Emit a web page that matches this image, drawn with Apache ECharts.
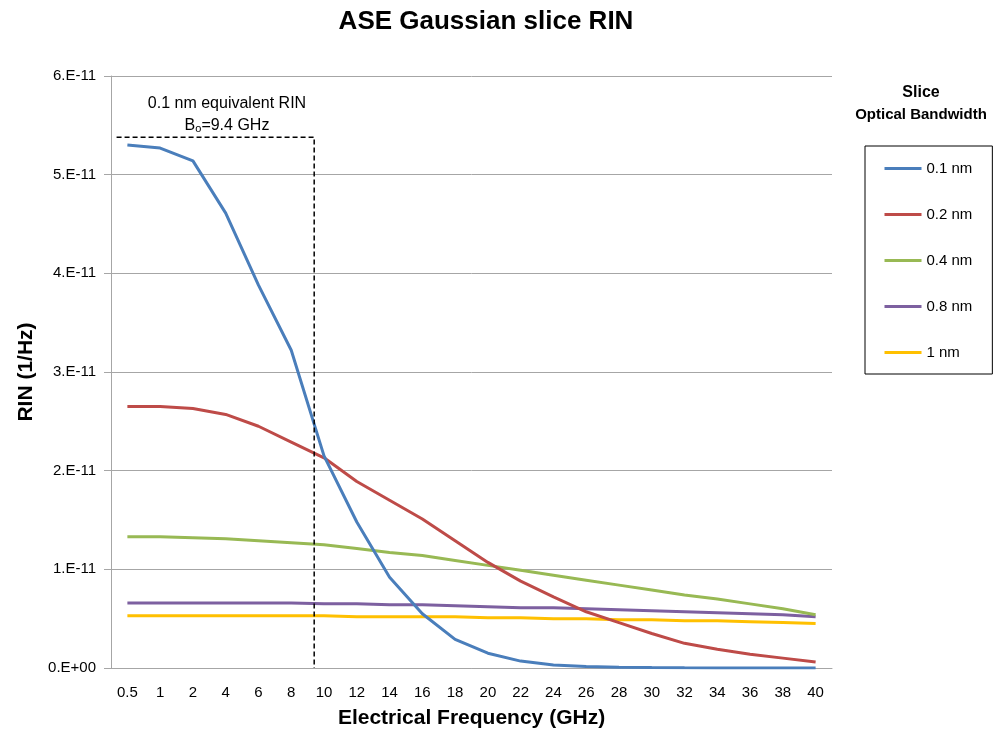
<!DOCTYPE html>
<html>
<head>
<meta charset="utf-8">
<script src="https://cdn.jsdelivr.net/npm/echarts@6/dist/echarts.min.js"></script>
<style>html,body{margin:0;padding:0;background:#fff}#c{width:1003px;height:735px}</style>
</head>
<body>
<div id="c"></div>
<script>
// Values in units of 1e-11 1/Hz
const categories = ['0.5','1','2','4','6','8','10','12','14','16','18','20','22','24','26','28','30','32','34','36','38','40'];
const seriesNames = ['0.1 nm','0.2 nm','0.4 nm','0.8 nm','1 nm'];
const rin01 = [5.30,5.27,5.14,4.61,3.88,3.22,2.15,1.48,0.92,0.55,0.29,0.15,0.07,0.03,0.015,0.008,0.004,0.002,0.001,0,0,0];
const rin02 = [2.65,2.65,2.63,2.57,2.45,2.29,2.13,1.89,1.70,1.51,1.29,1.07,0.88,0.72,0.57,0.46,0.35,0.25,0.19,0.14,0.10,0.06];
const rin04 = [1.33,1.33,1.32,1.31,1.29,1.27,1.25,1.21,1.17,1.14,1.09,1.04,0.99,0.94,0.89,0.84,0.79,0.74,0.70,0.65,0.60,0.54];
const rin08 = [0.66,0.66,0.66,0.66,0.66,0.66,0.65,0.65,0.64,0.64,0.63,0.62,0.61,0.61,0.60,0.59,0.58,0.57,0.56,0.55,0.54,0.52];
const rin10 = [0.53,0.53,0.53,0.53,0.53,0.53,0.53,0.52,0.52,0.52,0.52,0.51,0.51,0.50,0.50,0.49,0.49,0.48,0.48,0.47,0.46,0.45];
const yTickLabels = ['0.E+00','1.E-11','2.E-11','3.E-11','4.E-11','5.E-11','6.E-11'];
// Annotation: 0.1 nm equivalent RIN level and B0 = 9.4 GHz
const equivRin = 5.38;
const b0Freq = 9.4;
const annoStartIdx = -0.33;
// fractional category index of 9.4 GHz (between '8' idx 5 and '10' idx 6)
const b0Idx = 5 + (b0Freq - 8) / (10 - 8);
const colors = ['#4a7ebb','#be4b48','#98b954','#7d60a0','#ffc000'];
const dataSets = [rin01, rin02, rin04, rin08, rin10];

const chart = echarts.init(document.getElementById('c'));
const font = '"Liberation Sans", Arial, sans-serif';
const series = dataSets.map((d, i) => ({
  name: seriesNames[i], type: 'line', data: d, symbol: 'none',
  lineStyle: { color: colors[i], width: 3 }, itemStyle: { color: colors[i] },
  z: 3 + (4 - i)
}));
series.push({
  name: 'anno', type: 'line', xAxisIndex: 1, symbol: 'none', silent: true,
  data: [[annoStartIdx, equivRin], [b0Idx, equivRin], [b0Idx, 0]],
  lineStyle: { color: '#000', width: 1.5, type: [5, 3] }, z: 10
});
chart.setOption({
  animation: false,
  color: colors,
  title: {
    text: 'ASE Gaussian slice RIN', left: 481, top: 4, textAlign: 'center',
    textStyle: { fontFamily: font, fontWeight: 'bold', fontSize: 26, color: '#000' }
  },
  grid: { left: 111, right: 171, top: 76, bottom: 67 },
  legend: {
    data: seriesNames, orient: 'vertical', left: 865, top: 146,
    padding: [15, 20, 14, 18], itemGap: 31, itemWidth: 37, itemHeight: 14,
    itemStyle: { opacity: 0 }, lineStyle: { width: 3 },
    borderColor: '#000', borderWidth: 1, selectedMode: false,
    textStyle: { fontFamily: font, fontSize: 15, color: '#000' }
  },
  xAxis: [{
    type: 'category', data: categories, boundaryGap: true,
    name: 'Electrical Frequency (GHz)', nameLocation: 'middle', nameGap: 40,
    nameTextStyle: { fontFamily: font, fontWeight: 'bold', fontSize: 21, color: '#000' },
    axisLine: { lineStyle: { color: '#a6a6a6', width: 1 } },
    axisTick: { show: false },
    axisLabel: { fontFamily: font, fontSize: 15, color: '#000', margin: 17, interval: 0 }
  }, {
    type: 'value', min: -0.5, max: categories.length - 0.5, show: false
  }],
  yAxis: {
    type: 'value', min: 0, max: 6, interval: 1,
    name: 'RIN (1/Hz)', nameLocation: 'middle', nameGap: 72,
    nameTextStyle: { fontFamily: font, fontWeight: 'bold', fontSize: 21, color: '#000' },
    axisLine: { show: true, onZero: false, lineStyle: { color: '#a6a6a6', width: 1 } },
    axisTick: { show: true, length: 7, lineStyle: { color: '#a6a6a6' } },
    splitLine: { lineStyle: { color: '#a6a6a6', width: 1 } },
    axisLabel: {
      fontFamily: font, fontSize: 15, color: '#000', margin: 15,
      formatter: v => yTickLabels[Math.round(v)]
    }
  },
  graphic: [
    { type: 'text', x: 921, y: 93, style: { text: 'Slice', fontFamily: font, fontWeight: 'bold', fontSize: 16, fill: '#000', align: 'center', verticalAlign: 'middle' } },
    { type: 'text', x: 921, y: 115, style: { text: 'Optical Bandwidth', fontFamily: font, fontWeight: 'bold', fontSize: 15, fill: '#000', align: 'center', verticalAlign: 'middle' } },
    { type: 'text', x: 227, y: 104, z: 20, style: { text: '0.1 nm equivalent RIN', fontFamily: font, fontSize: 16, fill: '#000', align: 'center', verticalAlign: 'middle' } },
    { type: 'text', x: 227, y: 126, z: 20, style: {
        text: '{b|B}{s|o}{b|=9.4 GHz}', align: 'center', verticalAlign: 'middle',
        rich: { b: { fontFamily: font, fontSize: 16, color: '#000' }, s: { fontFamily: font, fontSize: 11, color: '#000', padding: [6, 0, 0, 0] } }
      } }
  ],
  series: series
});
</script>
</body>
</html>
